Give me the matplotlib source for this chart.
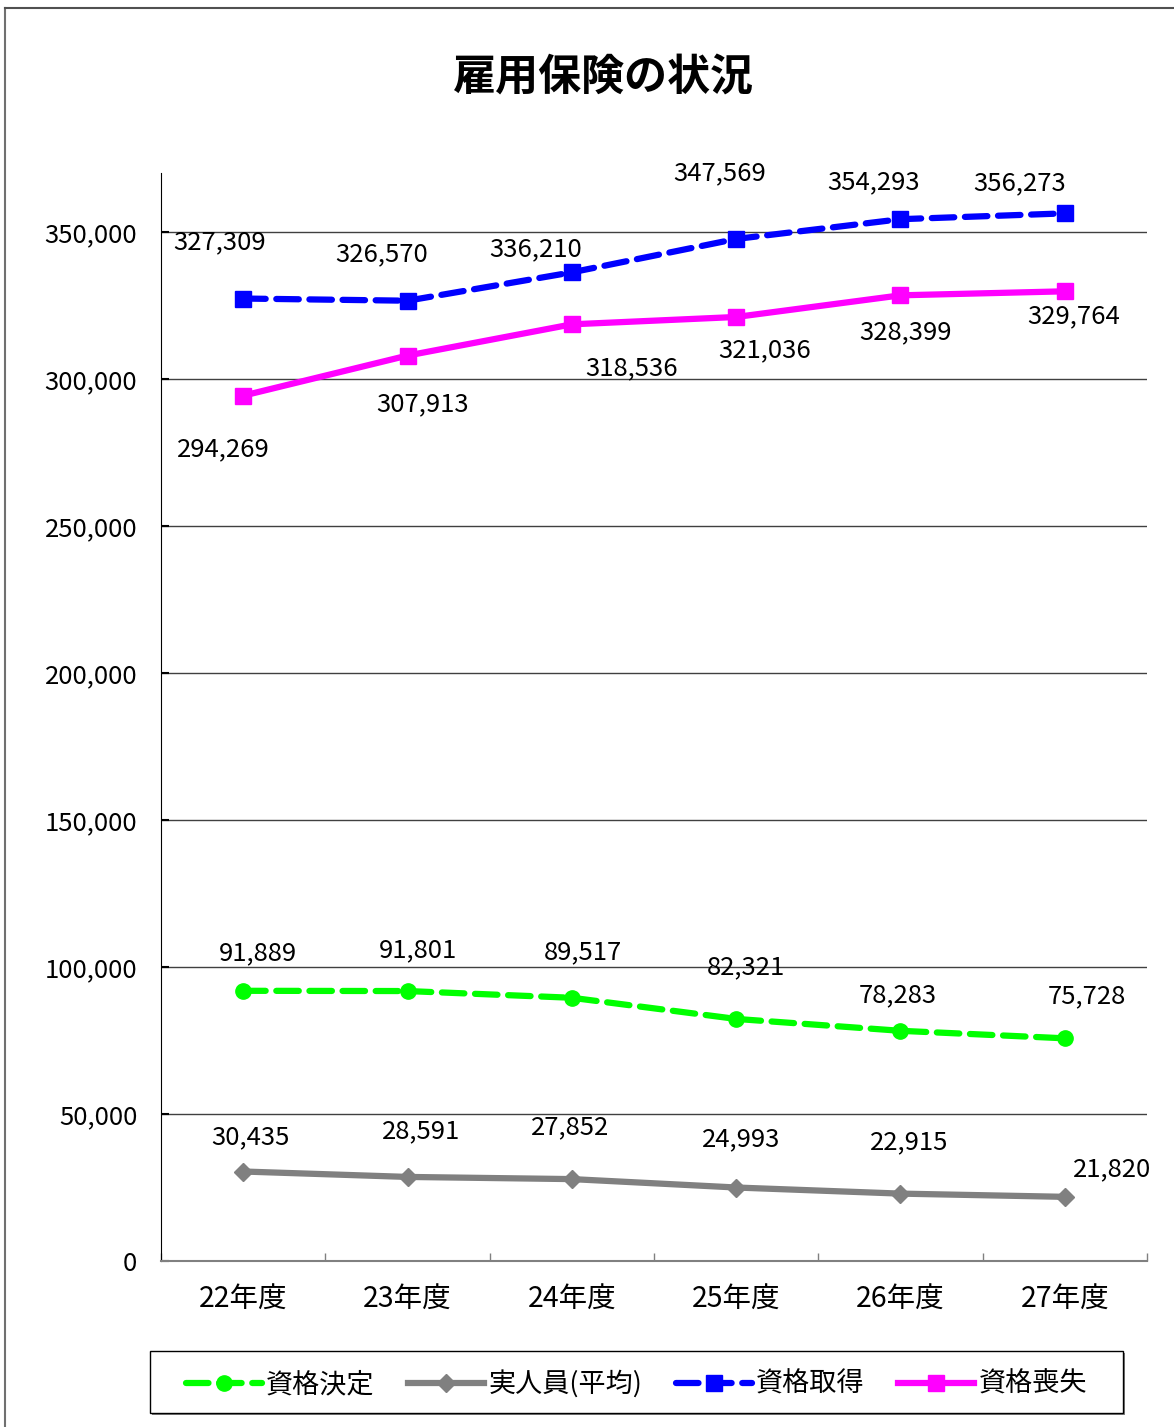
import matplotlib
matplotlib.use("Agg")
import matplotlib.pyplot as plt
from matplotlib.lines import Line2D
from matplotlib.patches import Rectangle
from matplotlib.ticker import FuncFormatter, MultipleLocator, FixedLocator
import numpy as np

plt.rcParams['font.family'] = ['Noto Sans CJK JP', 'DejaVu Sans']

title = "雇用保険の状況"
categories = ["22年度", "23年度", "24年度", "25年度", "26年度", "27年度"]
shikaku_kettei = [91889, 91801, 89517, 82321, 78283, 75728]
jitsu_jinin = [30435, 28591, 27852, 24993, 22915, 21820]
shikaku_shutoku = [327309, 326570, 336210, 347569, 354293, 356273]
shikaku_soshitsu = [294269, 307913, 318536, 321036, 328399, 329764]
series_names = ["資格決定", "実人員(平均)", "資格取得", "資格喪失"]

W, H = 1174, 1427
fig = plt.figure(figsize=(W / 100, H / 100), dpi=100)
ax = fig.add_axes([161 / W, 1 - 1261 / H, (1147 - 161) / W, (1261 - 173) / H])

# figure frame
fig.add_artist(Line2D([5 / W, 5 / W], [0, 1 - 8 / H], color='#707070', lw=1.5, transform=fig.transFigure))
fig.add_artist(Line2D([5 / W, 1], [1 - 8 / H, 1 - 8 / H], color='#505050', lw=1.5, transform=fig.transFigure))

x = np.arange(len(categories))
lw = 4.5
l1, = ax.plot(x, shikaku_kettei, color='#00FF00', lw=lw, ls=(0, (3.6, 1.7)), dash_capstyle='round',
              marker='o', ms=11, zorder=4)
l2, = ax.plot(x, jitsu_jinin, color='#808080', lw=lw, marker='D', ms=9, zorder=4)
l3, = ax.plot(x, shikaku_shutoku, color='#0000FF', lw=lw, ls=(0, (3.6, 1.7)), dash_capstyle='round',
              marker='s', ms=11, zorder=4)
l4, = ax.plot(x, shikaku_soshitsu, color='#FF00FF', lw=lw, marker='s', ms=11, zorder=4)

# label offsets in pixels (dx, dy) relative to point; dy positive = up
off_green = [(15, 38), (11, 41), (11, 46), (10, 52), (-3, 36), (22, 42)]
off_gray = [(7, 34), (14, 46), (-2, 52), (5, 48), (9, 51), (47, 28)]
off_blue = [(-24, 56), (-26, 46), (-36, 23), (-17, 66), (-27, 37), (-45, 30)]
off_mag = [(-20, -54), (15, -49), (60, -44), (28, -33), (5, -37), (9, -25)]

for vals, offs in [(shikaku_kettei, off_green), (jitsu_jinin, off_gray),
                   (shikaku_shutoku, off_blue), (shikaku_soshitsu, off_mag)]:
    for xi, v, (dx, dy) in zip(x, vals, offs):
        ax.annotate(f"{v:,}", (xi, v), xytext=(dx, dy), textcoords='offset pixels',
                    ha='center', va='center', fontsize=18.5, color='black', zorder=5)

ax.set_xlim(-0.5, len(categories) - 0.5)
ax.set_ylim(0, 370000)
ax.yaxis.set_major_locator(MultipleLocator(50000))
ax.yaxis.set_major_formatter(FuncFormatter(lambda v, p: f"{int(v):,}"))
ax.grid(axis='y', color='#404040', lw=1)
ax.set_axisbelow(True)

ax.set_xticks(x)
ax.set_xticklabels(categories, fontsize=20.5)
ax.xaxis.set_minor_locator(FixedLocator(np.arange(-0.5, len(categories), 1.0)))
ax.tick_params(axis='x', which='major', length=0, pad=17)
ax.tick_params(axis='x', which='minor', length=6, color='#808080', width=1, direction='in')
ax.tick_params(axis='y', length=6, width=1.5, labelsize=18.5, pad=17, direction='in')

for s in ['top', 'right']:
    ax.spines[s].set_visible(False)
ax.spines['left'].set_color('black')
ax.spines['bottom'].set_color('#808080')
ax.spines['bottom'].set_linewidth(1.5)

fig.text(603 / W, 1 - 77 / H, title, ha='center', va='center', fontsize=31, fontweight='bold')

# legend frame with shadow
lx0, lx1, ly0, ly1 = 150, 1123, 1351, 1413
fig.add_artist(Rectangle(((lx0 + 2) / W, 1 - (ly1 + 2) / H), (lx1 - lx0) / W, (ly1 - ly0) / H,
                         transform=fig.transFigure, facecolor='#808080', edgecolor='none', zorder=1))
fig.add_artist(Rectangle((lx0 / W, 1 - ly1 / H), (lx1 - lx0) / W, (ly1 - ly0) / H,
                         transform=fig.transFigure, facecolor='white', edgecolor='black', lw=1, zorder=2))
leg = fig.legend([l1, l2, l3, l4], series_names, loc='center',
                 bbox_to_anchor=((lx0 + lx1) / 2 / W, 1 - (ly0 + ly1 + 4) / 2 / H), ncol=4,
                 fontsize=19.5, frameon=False, handlelength=2.8, columnspacing=1.25,
                 handletextpad=0.15, borderpad=0.3)
leg.set_zorder(3)

fig.savefig("out.png", dpi=100)
